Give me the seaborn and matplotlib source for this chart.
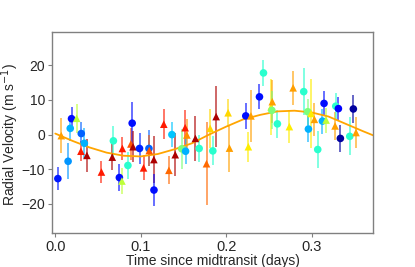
import matplotlib
matplotlib.use("Agg")
import matplotlib.pyplot as plt
import seaborn as sns
import pandas as pd
import numpy as np

# RV measurements: time (days), velocity, error, colour value (jet), instrument
time = [0.003, 0.007, 0.015, 0.0175, 0.019, 0.025, 0.030, 0.0304, 0.034, 0.037,
        0.054, 0.0667, 0.068, 0.075, 0.078, 0.0785, 0.085, 0.0885, 0.090, 0.091,
        0.0986, 0.1033, 0.1096, 0.110, 0.1154, 0.1155, 0.127, 0.133, 0.1365, 0.1404,
        0.148, 0.152, 0.1525, 0.154, 0.164, 0.1684, 0.177, 0.1813, 0.1844, 0.1883,
        0.2023, 0.2039, 0.223, 0.226, 0.229, 0.239, 0.2437, 0.2526, 0.254, 0.2535,
        0.260, 0.274, 0.2784, 0.2908, 0.2955, 0.2963, 0.2994, 0.3033, 0.3072, 0.3127,
        0.3146, 0.317, 0.3275, 0.3283, 0.3314, 0.3337, 0.3447, 0.3489, 0.352]
rv = [-12.7, -0.3, -7.7, 1.8, 4.6, 4.7, -4.8, 0.3, -2.5, -6.0,
      -10.8, -6.5, -1.8, -12.4, -13.4, -4.0, -8.9, -2.7, 3.3, -3.5,
      -4.0, -9.6, -4.0, -4.6, -7.2, -16.0, 3.0, -10.3, 0.0, -5.8,
      -4.1, 2.0, -4.8, -0.1, -1.1, -4.0, -8.4, 1.8, -4.7, 5.2,
      6.3, -3.9, 5.4, -3.5, 5.4, 10.9, 17.8, 8.0, 9.5, 7.0,
      3.1, 2.3, 13.5, 12.4, 6.6, 1.6, 6.1, 4.4, -4.3, 3.9,
      9.0, 4.2, 2.5, 8.2, 7.5, -1.1, -0.5, 7.4, 0.6]
err = [3.3, 5.0, 5.2, 3.6, 3.5, 4.2, 2.9, 3.3, 4.3, 4.8,
       3.3, 3.8, 4.3, 3.8, 3.8, 3.3, 3.8, 4.5, 6.2, 4.5,
       4.5, 3.6, 5.2, 4.5, 6.8, 4.7, 4.4, 4.0, 3.6, 6.2,
       5.7, 5.0, 3.8, 4.5, 6.4, 4.0, 12.0, 5.6, 4.2, 8.7,
       4.0, 6.8, 3.8, 4.3, 7.4, 3.6, 3.8, 8.0, 6.2, 5.5,
       4.0, 4.8, 4.9, 6.7, 3.8, 3.8, 10.0, 4.8, 5.2, 3.6,
       3.6, 3.6, 4.0, 3.9, 3.3, 3.8, 5.5, 4.1, 4.5]
cval = [0.15, 0.74, 0.27, 0.30, 0.14, 0.58, 0.88, 0.22, 0.30, 0.96,
        0.88, 0.96, 0.40, 0.14, 0.58, 0.88, 0.40, 0.82, 0.14, 0.96,
        0.16, 0.88, 0.22, 0.82, 0.96, 0.14, 0.88, 0.80, 0.32, 0.96,
        0.50, 0.88, 0.30, 0.76, 0.96, 0.40, 0.80, 0.68, 0.40, 0.96,
        0.68, 0.74, 0.14, 0.66, 0.74, 0.14, 0.40, 0.66, 0.74, 0.50,
        0.40, 0.66, 0.74, 0.40, 0.50, 0.30, 0.66, 0.74, 0.40, 0.30,
        0.14, 0.58, 0.74, 0.40, 0.12, 0.03, 0.40, 0.03, 0.74]
inst = ["o", "^", "o", "o", "o", "^", "^", "o", "o", "^",
        "^", "^", "o", "o", "^", "^", "o", "^", "o", "^",
        "o", "^", "o", "^", "^", "o", "^", "^", "o", "^",
        "o", "^", "o", "^", "^", "o", "^", "^", "o", "^",
        "^", "^", "o", "^", "^", "o", "o", "^", "^", "o",
        "o", "^", "^", "o", "o", "o", "^", "^", "o", "o",
        "o", "^", "^", "o", "o", "o", "o", "o", "^"]

# best-fit RV curve
model_t = [0.0, 0.02, 0.04, 0.06, 0.08, 0.10, 0.12, 0.14, 0.16, 0.18,
           0.20, 0.22, 0.24, 0.26, 0.28, 0.30, 0.32, 0.34, 0.36, 0.375]
model_rv = [0.3, -1.8, -3.7, -5.2, -6.1, -6.3, -5.6, -4.2, -2.5, 0.0,
            2.3, 4.4, 5.7, 6.7, 6.9, 6.4, 5.2, 3.1, 1.0, -0.5]

df = pd.DataFrame({"time": time, "rv": rv, "err": err, "c": cval, "inst": inst})
model = pd.DataFrame({"time": model_t, "rv": model_rv})

sns.set_theme(style="ticks")
plt.rcParams["font.family"] = ["Liberation Sans", "DejaVu Sans"]

fig = plt.figure(figsize=(4.15, 2.67), dpi=100)
ax = fig.add_axes([0.125, 0.126, 0.774, 0.754])

cmap = plt.get_cmap("jet")
ax.vlines(df["time"], df["rv"] - df["err"], df["rv"] + df["err"],
          colors=cmap(df["c"].values), alpha=0.6, lw=1.4, zorder=1)

sns.lineplot(data=model, x="time", y="rv", color="orange", lw=1.3, ax=ax, zorder=2)

sns.scatterplot(data=df, x="time", y="rv", hue="c", palette=cmap, hue_norm=(0, 1),
                style="inst", markers={"o": "o", "^": "^"}, s=30, linewidth=0,
                legend=False, ax=ax, zorder=3)

ax.set_xlim(-0.004, 0.372)
ax.set_ylim(-28.5, 29.6)
ax.set_xticks([0.0, 0.1, 0.2, 0.3])
ax.set_yticks([-20, -10, 0, 10, 20])
ax.set_xlabel("Time since midtransit (days)", fontsize=10, labelpad=0)
ax.set_ylabel("Radial Velocity (m s$^{-1}$)", fontsize=10)
ax.yaxis.set_label_coords(-0.097, 0.49)
ax.tick_params(length=3, width=0.8, color="gray", pad=2)
ax.tick_params(axis="x", labelsize=10.5)
ax.tick_params(axis="y", labelsize=10)
for s in ax.spines.values():
    s.set_color("gray")
    s.set_linewidth(1.0)

fig.savefig("out.png", dpi=100)
